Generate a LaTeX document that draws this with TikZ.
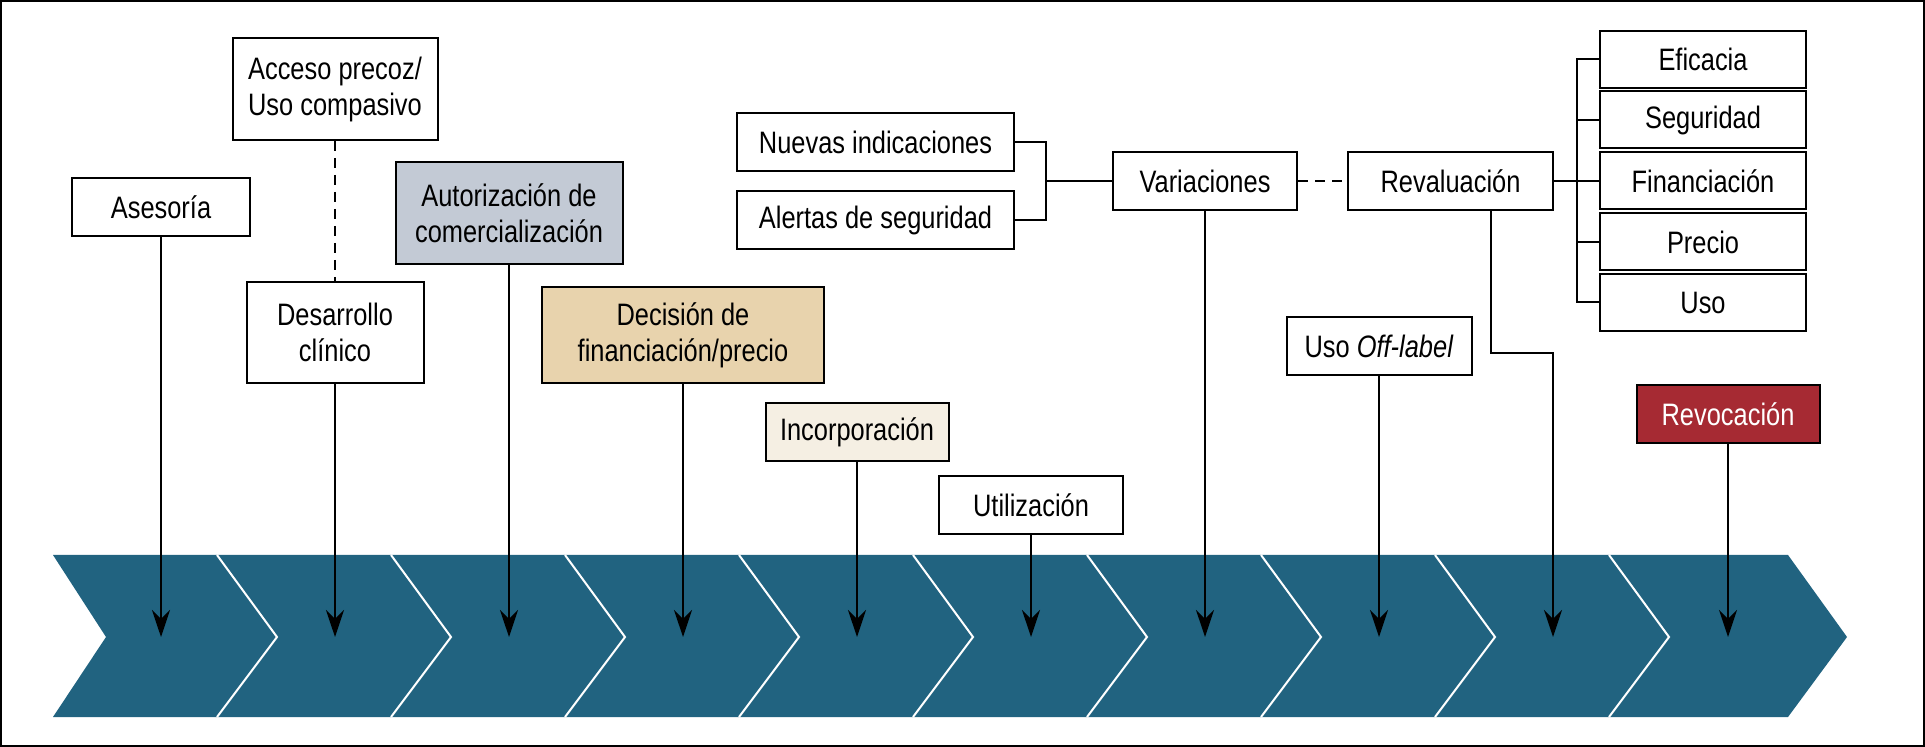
\documentclass[tikz,border=0pt]{standalone}
\usepackage{fontspec}
\setmainfont{Liberation Sans}[FakeStretch=0.82]
\usetikzlibrary{arrows.meta}
\definecolor{banda}{RGB}{33,99,128}
\definecolor{autgris}{RGB}{195,202,213}
\definecolor{decbeige}{RGB}{232,211,173}
\definecolor{increma}{RGB}{245,239,227}
\definecolor{revrojo}{RGB}{166,42,51}

\begin{document}
\begin{tikzpicture}[x=0.5pt, y=-0.5pt,
		caja/.style={draw, rectangle, line width=1pt, align=center, minimum height=29pt, inner sep=2pt, font=\fontsize{15.5pt}{18pt}\selectfont},
		flecha/.style={->, >={Stealth[length=13.5pt, width=9pt]}, line width=0.9pt},
		linea/.style={line width=1pt},
		guion/.style={line width=0.9pt, dash pattern=on 5pt off 3.5pt}]
				\useasboundingbox (0,0) rectangle (1925,747);
				\draw[line width=1pt] (1,1) rectangle (1924,746);
				% banda de chevrones
				\fill[banda] (53,555) -- (1788,555) -- (1847,637) -- (1788,717) -- (53,717) -- (106,637) -- cycle;
				\foreach \x in {217,391,...,1609}
					\draw[white, line width=1pt] (\x,555) -- (\x+60,637) -- (\x,717);
				\coordinate (M)at(0, 637);
				% cajas
				\node[caja, minimum width=89pt] (AS)at(161, 207) {Asesoría};
				\node[caja, minimum width=102.5pt, minimum height=51pt] (AC)at(335, 89) {Acceso precoz/\\Uso compasivo};
				\node[caja, minimum width=88.5pt, minimum height=50.5pt] (DC)at(335, 332.5) {Desarrollo\\clínico};
				\node[caja, fill=autgris, minimum width=113.5pt, minimum height=51pt] (AU)at(509, 213) {Autorización de\\comercialización};
				\node[caja, fill=decbeige, minimum width=141pt, minimum height=48pt] (DF)at(683, 335) {Decisión de\\financiación/precio};
				\node[caja, fill=increma, minimum width=91.5pt] (IN)at(857, 432) {Incorporación};
				\node[caja, minimum width=92pt] (UT)at(1031, 505) {Utilización};
				\node[caja, minimum width=138.5pt] (NI)at(875.5, 142) {Nuevas indicaciones};
				\node[caja, minimum width=138.5pt] (AL)at(875.5, 220) {Alertas de seguridad};
				\node[caja, minimum width=92pt] (VA)at(1205, 181) {Variaciones};
				\node[caja, minimum width=102.5pt] (RE)at(1450.5, 181) {Revaluación};
				\node[caja, minimum width=92.5pt] (UO)at(1379, 346.5) {Uso \textit{Off-label}};
				\node[caja, fill=revrojo, text=white, minimum width=91.5pt] (RV)at(1728, 414) {Revocación};
				\node[caja, minimum width=103pt, minimum height=28.5pt] (EF)at(1703, 59.5) {Eficacia};
				\node[caja, minimum width=103pt, minimum height=28.5pt] (SE)at(1703, 120) {Seguridad};
				\node[caja, minimum width=103pt, minimum height=28.5pt] (FI)at(1703, 181) {Financiación};
				\node[caja, minimum width=103pt, minimum height=28.5pt] (PR)at(1703, 242) {Precio};
				\node[caja, minimum width=103pt, minimum height=28.5pt] (US)at(1703, 302.5) {Uso};
				% flechas a la banda
				\draw[flecha] (AS) -- (AS |- M);
				\draw[flecha] (DC) -- (DC |- M);
				\draw[flecha] (AU) -- (AU |- M);
				\draw[flecha] (DF) -- (DF |- M);
				\draw[flecha] (IN) -- (IN |- M);
				\draw[flecha] (UT) -- (UT |- M);
				\draw[flecha] (VA) -- (VA |- M);
				\draw[flecha] (UO) -- (UO |- M);
				\draw[flecha] (RV) -- (RV |- M);
				\coordinate (RB)at(1553, 353);
				\draw[flecha] ([xshift=20.25pt]RE.south) |- (RB) -- (RB |- M);
				% enlaces
				\draw[guion] (AC) -- (DC);
				\draw[guion] (VA) -- (RE);
				\coordinate (VJ)at(1046, 181);
				\draw[linea] (NI.east) -| (VJ) |- (AL.east);
				\draw[linea] (VJ) -- (VA);
				\coordinate (RJ)at(1577, 181);
				\draw[linea] (RE) -- (FI);
				\draw[linea] (EF.west) -| (RJ) |- (US.west);
				\draw[linea] (SE.west) -- (SE.west -| RJ);
				\draw[linea] (PR.west) -- (PR.west -| RJ);
			\end{tikzpicture}
\end{document}
